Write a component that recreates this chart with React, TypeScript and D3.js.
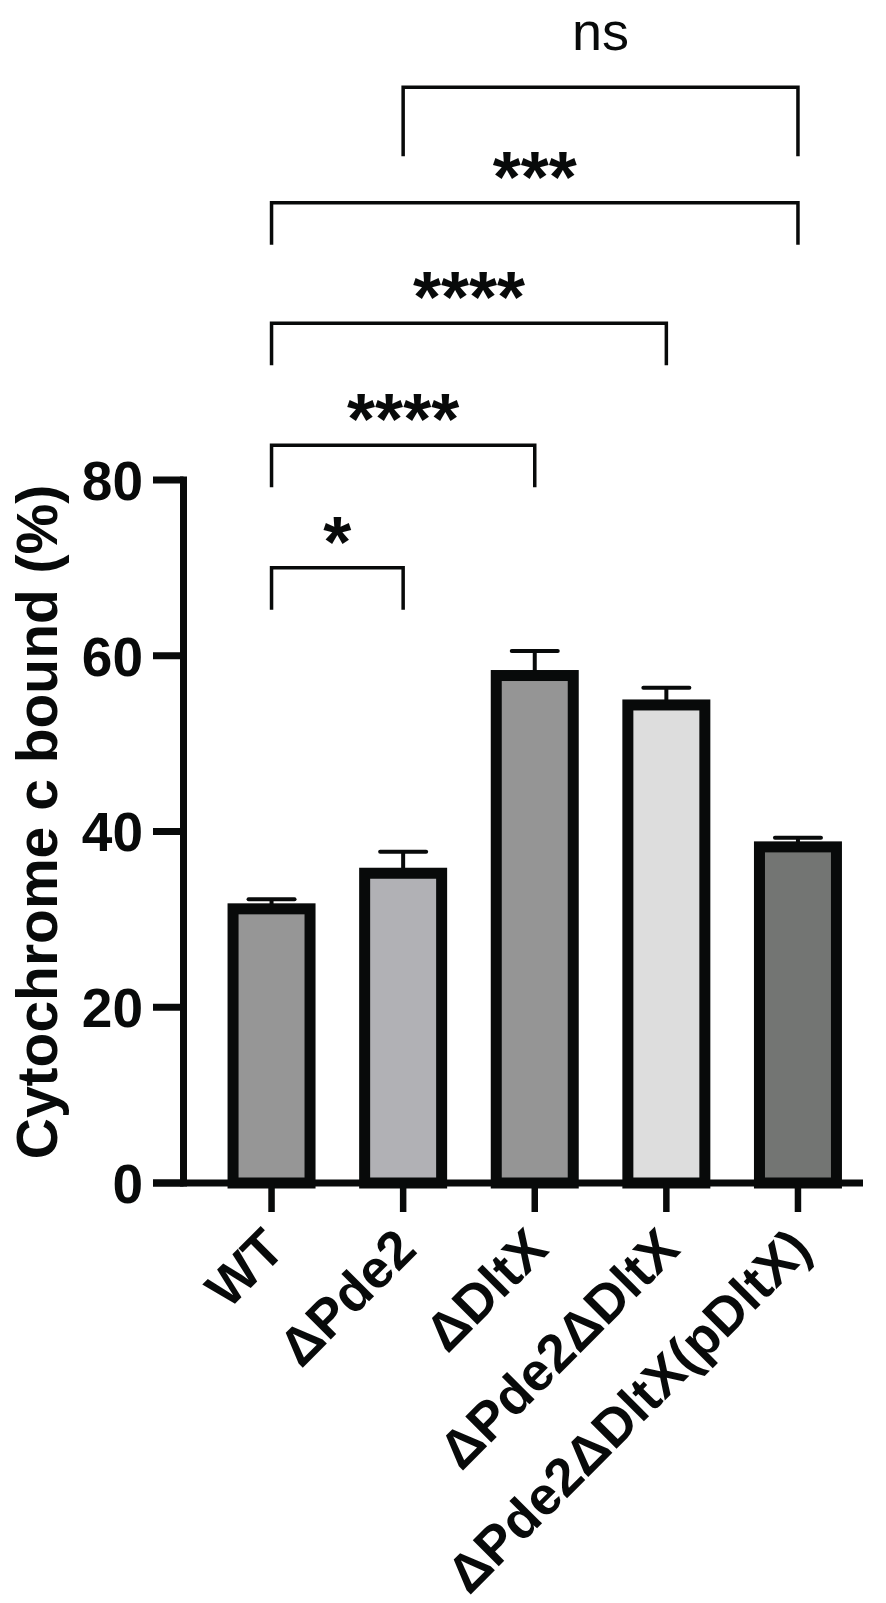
import * as d3 from "d3";
import { FC, useEffect, useRef } from "react";

const CATEGORIES: string[] = [
  "WT",
  "ΔPde2",
  "ΔDltX",
  "ΔPde2ΔDltX",
  "ΔPde2ΔDltX(pDltX)",
];
const MEANS: number[] = [31.2, 35.25, 57.75, 54.4, 38.25];
const SEMS: number[] = [1.1, 2.45, 2.8, 1.95, 1.05];
const FILLS: string[] = ["#969696", "#b1b1b5", "#959595", "#dddddd", "#737573"];
const Y_TICKS: number[] = [0, 20, 40, 60, 80];

// comparisons: [from index, to index, label]
const COMPARISONS: [number, number, string][] = [
  [0, 1, "*"],
  [0, 2, "****"],
  [0, 3, "****"],
  [0, 4, "***"],
  [1, 4, "ns"],
];

const W = 886;
const H = 1603;
const FONT = "'Liberation Sans', Arial, Helvetica, sans-serif";
const INK = "#080a0a";

// pixel rows of the brackets, bottom to top
const BRACKET_Y = [567.7, 445.3, 323.3, 202.7, 87.3];

const App: FC = () => {
  const ref = useRef<SVGSVGElement | null>(null);

  useEffect(() => {
    if (!ref.current) return;
    const svg = d3.select(ref.current);
    svg.selectAll("*").remove();

    const axisX = 183.5;
    const baseY = 1183;

    const x = d3
      .scalePoint<string>()
      .domain(CATEGORIES)
      .range([axisX, 886])
      .padding(0.669);
    const y = d3.scaleLinear().domain([0, 80]).range([baseY, 480]);
    const barW = x.step() * 0.585;

    const g = svg.append("g");

    // error bars (upper only)
    CATEGORIES.forEach((c, i) => {
      const cx = x(c)!;
      g.append("line")
        .attr("x1", cx)
        .attr("x2", cx)
        .attr("y1", y(MEANS[i]))
        .attr("y2", y(MEANS[i] + SEMS[i]))
        .attr("stroke", INK)
        .attr("stroke-width", 4);
      g.append("line")
        .attr("x1", cx - 23)
        .attr("x2", cx + 23)
        .attr("y1", y(MEANS[i] + SEMS[i]))
        .attr("y2", y(MEANS[i] + SEMS[i]))
        .attr("stroke", INK)
        .attr("stroke-width", 4)
        .attr("stroke-linecap", "round");
    });

    // bars
    g.selectAll("rect.bar")
      .data(CATEGORIES)
      .enter()
      .append("rect")
      .attr("class", "bar")
      .attr("x", (d) => x(d)! - barW / 2)
      .attr("width", barW)
      .attr("y", (_, i) => y(MEANS[i]))
      .attr("height", (_, i) => baseY - y(MEANS[i]))
      .attr("fill", (_, i) => FILLS[i])
      .attr("stroke", INK)
      .attr("stroke-width", 11);

    // axes
    g.append("line")
      .attr("x1", axisX)
      .attr("x2", axisX)
      .attr("y1", y(80) - 3.5)
      .attr("y2", baseY + 3.5)
      .attr("stroke", INK)
      .attr("stroke-width", 7);
    g.append("line")
      .attr("x1", 153)
      .attr("x2", 863)
      .attr("y1", baseY)
      .attr("y2", baseY)
      .attr("stroke", INK)
      .attr("stroke-width", 7);

    Y_TICKS.forEach((t) => {
      g.append("line")
        .attr("x1", 153)
        .attr("x2", axisX)
        .attr("y1", y(t))
        .attr("y2", y(t))
        .attr("stroke", INK)
        .attr("stroke-width", 7);
      g.append("text")
        .attr("x", 143)
        .attr("y", y(t))
        .attr("dy", "0.36em")
        .attr("text-anchor", "end")
        .attr("font-family", FONT)
        .attr("font-weight", "bold")
        .attr("font-size", 55)
        .attr("fill", INK)
        .text(String(t));
    });

    CATEGORIES.forEach((c) => {
      const cx = x(c)!;
      g.append("line")
        .attr("x1", cx)
        .attr("x2", cx)
        .attr("y1", baseY)
        .attr("y2", 1212)
        .attr("stroke", INK)
        .attr("stroke-width", 6.5);
      g.append("text")
        .attr("transform", `translate(${cx + 2},1238) rotate(-45)`)
        .attr("dy", "0.36em")
        .attr("text-anchor", "end")
        .attr("font-family", FONT)
        .attr("font-weight", "bold")
        .attr("font-size", 53.5)
        .attr("fill", INK)
        .text(c);
    });

    g.append("text")
      .attr("transform", "translate(57,822) rotate(-90)")
      .attr("text-anchor", "middle")
      .attr("font-family", FONT)
      .attr("font-weight", "bold")
      .attr("font-size", 57)
      .attr("fill", INK)
      .text("Cytochrome c bound (%)");

    // significance brackets
    COMPARISONS.forEach(([a, b, label], k) => {
      const x1 = x(CATEGORIES[a])!;
      const x2 = x(CATEGORIES[b])!;
      const ly = BRACKET_Y[k];
      const leg = label === "ns" ? 69 : 42;
      g.append("path")
        .attr("d", `M${x1},${ly + leg}V${ly}H${x2}V${ly + leg}`)
        .attr("fill", "none")
        .attr("stroke", INK)
        .attr("stroke-width", 3.5);
      const t = g
        .append("text")
        .attr("x", (x1 + x2) / 2)
        .attr("text-anchor", "middle")
        .attr("font-family", FONT)
        .attr("fill", INK)
        .text(label);
      if (label === "ns") {
        t.attr("y", ly - 37).attr("font-size", 54);
      } else {
        t.attr("y", ly - 42 + 0.57 * 72)
          .attr("font-size", 72)
          .attr("font-weight", "bold");
      }
    });
  }, []);

  return (
    <svg
      ref={ref}
      width={W}
      height={H}
      style={{ position: "absolute", left: 0, top: 0, background: "#fff" }}
    />
  );
};

export default App;
